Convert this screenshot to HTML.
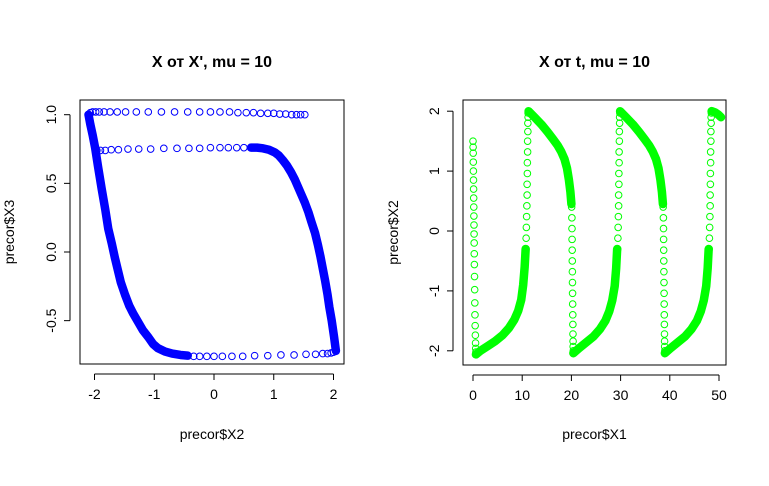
<!DOCTYPE html>
<html><head><meta charset="utf-8"><style>
body{margin:0;background:#fff}
svg{display:block;font-family:"Liberation Sans","Noto Sans CJK SC",sans-serif}
</style></head><body>
<svg id="c" width="769" height="486"></svg>
<script>
// ---- Left panel data (X2 vs X3) ----
const leftTopRow=[[1.52,1.0],[1.45,1.0],[1.38,1.0],[1.3,1.0],[1.2,1.005],[1.1,1.005],[1.0,1.01],[0.9,1.01],[0.78,1.01],[0.66,1.015],[0.54,1.015],[0.4,1.015],[0.26,1.02],[0.1,1.02],[-0.06,1.02],[-0.24,1.02],[-0.44,1.02],[-0.66,1.02],[-0.88,1.02],[-1.1,1.02],[-1.3,1.02],[-1.48,1.02],[-1.62,1.02],[-1.74,1.02],[-1.84,1.02],[-1.92,1.02],[-1.98,1.02],[-2.03,1.02],[-2.07,1.015]];
const leftBranchL=[[-2.1,1.0],[-2.07,0.93],[-2.03,0.85],[-1.99,0.76],[-1.94,0.62],[-1.88,0.46],[-1.82,0.31],[-1.77,0.17],[-1.71,0.06],[-1.66,-0.04],[-1.61,-0.13],[-1.56,-0.22],[-1.49,-0.31],[-1.42,-0.39],[-1.35,-0.45],[-1.27,-0.51],[-1.19,-0.57],[-1.1,-0.62],[-1.02,-0.67],[-0.94,-0.7],[-0.82,-0.725],[-0.7,-0.74],[-0.56,-0.75],[-0.44,-0.755]];
const leftBottomRow=[[-0.44,-0.755],[-0.34,-0.76],[-0.24,-0.76],[-0.12,-0.76],[0.0,-0.76],[0.14,-0.76],[0.3,-0.76],[0.48,-0.76],[0.68,-0.755],[0.9,-0.755],[1.12,-0.75],[1.34,-0.75],[1.54,-0.745],[1.7,-0.745],[1.82,-0.74],[1.9,-0.74],[1.96,-0.735],[2.0,-0.73]];
const leftBranchR=[[2.04,-0.72],[2.01,-0.62],[1.97,-0.5],[1.93,-0.4],[1.9,-0.31],[1.86,-0.21],[1.82,-0.12],[1.78,-0.03],[1.74,0.05],[1.69,0.14],[1.63,0.22],[1.58,0.29],[1.52,0.36],[1.46,0.42],[1.4,0.48],[1.35,0.53],[1.29,0.58],[1.22,0.63],[1.15,0.67],[1.08,0.705],[1.02,0.725],[0.92,0.745],[0.82,0.755],[0.72,0.76],[0.62,0.76]];
const leftMidRow=[[0.62,0.76],[0.5,0.76],[0.38,0.76],[0.24,0.76],[0.1,0.76],[-0.06,0.76],[-0.24,0.755],[-0.42,0.755],[-0.62,0.755],[-0.84,0.755],[-1.06,0.75],[-1.26,0.75],[-1.44,0.75],[-1.6,0.745],[-1.72,0.745],[-1.82,0.74],[-1.9,0.74],[-1.96,0.74]];
const leftXTicks=[-2,-1,0,1,2];
const leftYTicks=[-0.5,0.0,0.5,1.0];
const leftYTickLabels=["-0.5","0.0","0.5","1.0"];
// ---- Right panel data (t vs X2) ----
const rJump0=[[0.0,1.5],[0.02,1.4],[0.04,1.3],[0.06,1.15],[0.08,1.0],[0.1,0.85],[0.12,0.7],[0.14,0.55],[0.16,0.4],[0.18,0.25],[0.2,0.1],[0.22,-0.05],[0.24,-0.2],[0.26,-0.38],[0.28,-0.56],[0.31,-0.76],[0.34,-0.98],[0.37,-1.2],[0.4,-1.4],[0.44,-1.58],[0.48,-1.74],[0.52,-1.87],[0.56,-1.96],[0.6,-2.02]];
const rBranch1=[[0.6,-2.06],[1.5,-2.0],[3,-1.92],[4.5,-1.84],[6,-1.74],[7.3,-1.62],[8.4,-1.48],[9.2,-1.33],[9.8,-1.15],[10.2,-0.9],[10.5,-0.6],[10.7,-0.3]];
const rJump1=[[10.75,-0.3],[10.8,-0.12],[10.85,0.06],[10.9,0.24],[10.95,0.42],[11.0,0.6],[11.0,0.78],[11.05,0.96],[11.05,1.14],[11.1,1.32],[11.1,1.5],[11.15,1.66],[11.15,1.8],[11.2,1.9],[11.2,1.97]];
const rBranch2=[[11.3,2.0],[12.5,1.9],[13.9,1.78],[15.2,1.65],[16.3,1.53],[17.2,1.43],[17.9,1.33],[18.6,1.2],[19.1,1.05],[19.5,0.85],[19.8,0.65],[20.0,0.45]];
const rJump2=[[20.05,0.4],[20.1,0.22],[20.12,0.04],[20.14,-0.14],[20.16,-0.32],[20.18,-0.5],[20.2,-0.68],[20.22,-0.86],[20.24,-1.04],[20.26,-1.22],[20.28,-1.4],[20.3,-1.56],[20.32,-1.72],[20.34,-1.84],[20.36,-1.93],[20.4,-2.0]];
const rBranch3=[[20.4,-2.04],[21.5,-1.96],[23,-1.86],[24.5,-1.76],[25.8,-1.64],[26.9,-1.5],[27.7,-1.34],[28.3,-1.16],[28.8,-0.92],[29.1,-0.62],[29.3,-0.3]];
const rJump3=[[29.4,-0.3],[29.45,-0.12],[29.5,0.06],[29.55,0.24],[29.6,0.42],[29.6,0.6],[29.65,0.78],[29.65,0.96],[29.7,1.14],[29.7,1.32],[29.75,1.5],[29.75,1.66],[29.8,1.8],[29.8,1.9],[29.85,1.97]];
const rBranch4=[[29.9,2.0],[31.1,1.9],[32.5,1.78],[33.8,1.65],[34.9,1.53],[35.8,1.43],[36.5,1.33],[37.2,1.2],[37.7,1.05],[38.1,0.85],[38.4,0.65],[38.6,0.45]];
const rJump4=[[38.65,0.4],[38.7,0.22],[38.72,0.04],[38.74,-0.14],[38.76,-0.32],[38.78,-0.5],[38.8,-0.68],[38.82,-0.86],[38.84,-1.04],[38.86,-1.22],[38.88,-1.4],[38.9,-1.56],[38.92,-1.72],[38.94,-1.84],[38.96,-1.93],[39.0,-2.0]];
const rBranch5=[[39.0,-2.04],[40.1,-1.96],[41.6,-1.86],[43.1,-1.76],[44.4,-1.64],[45.5,-1.5],[46.3,-1.34],[46.9,-1.16],[47.4,-0.92],[47.7,-0.62],[47.9,-0.3]];
const rJump5=[[48.0,-0.3],[48.05,-0.12],[48.1,0.06],[48.15,0.24],[48.2,0.42],[48.2,0.6],[48.25,0.78],[48.25,0.96],[48.3,1.14],[48.3,1.32],[48.35,1.5],[48.35,1.66],[48.4,1.8],[48.4,1.9],[48.45,1.97]];
const rBranch6=[[48.5,2.0],[49.2,1.98],[49.9,1.94],[50.4,1.9]];
const rightXTicks=[0,10,20,30,40,50];
const rightYTicks=[-2,-1,0,1,2];

const NS="http://www.w3.org/2000/svg";
const svg=document.getElementById('c');
function mk(tag,attrs,parent){const e=document.createElementNS(NS,tag);for(const k in attrs)e.setAttribute(k,attrs[k]);(parent||svg).appendChild(e);return e;}
function txt(s,x,y,opt,name){const e=mk('text',Object.assign({x:x,y:y,'text-anchor':'middle','font-size':14,fill:'#000'},opt||{}));e.textContent=s;


return e;}

// axis functions
const Lx=v=>214+v*59.75, Ly=v=>252-v*137.3;
const Rx=v=>473+v*4.92, Ry=v=>231-v*59.9;

function panel(box,xs,ys,xt,xtl,yt,ytl,title,xlab,ylab,ylabX,prefix){
  const r=mk('rect',{x:box[0],y:box[1],width:box[2]-box[0],height:box[3]-box[1],fill:'none',stroke:'#000','stroke-width':1});
  
  
  const xl=mk('line',{x1:xs(xt[0]),x2:xs(xt[xt.length-1]),y1:box[3]+10,y2:box[3]+10,stroke:'#000'});
  
  
  xt.forEach((v,i)=>{const t=mk('line',{x1:xs(v),x2:xs(v),y1:box[3]+10,y2:box[3]+16,stroke:'#000'});
    
    
    txt(xtl[i],xs(v),box[3]+35,{},prefix+'-x-tick-label');});
  const yl=mk('line',{x1:box[0]-10,x2:box[0]-10,y1:ys(yt[0]),y2:ys(yt[yt.length-1]),stroke:'#000'});
  
  
  yt.forEach((v,i)=>{const t=mk('line',{x1:box[0]-16,x2:box[0]-10,y1:ys(v),y2:ys(v),stroke:'#000'});
    
    
    const X=box[0]-24,Y=ys(v);
    txt(ytl[i],X,Y,{transform:'rotate(-90 '+X+' '+Y+')'},prefix+'-y-tick-label');});
  txt(title,(box[0]+box[2])/2,67,{'font-size':16,'font-weight':'bold'},prefix+'-title');
  txt(xlab,(box[0]+box[2])/2,439,{},prefix+'-x-axis-title');
  txt(ylab,ylabX,(box[1]+box[3])/2,{transform:'rotate(-90 '+ylabX+' '+((box[1]+box[3])/2)+')'},prefix+'-y-axis-title');
}
function branch(arr,xs,ys,col,name){
  const p=mk('polyline',{points:arr.map(d=>xs(d[0])+','+ys(d[1])).join(' '),fill:'none',stroke:col,'stroke-width':8.5,'stroke-linejoin':'round','stroke-linecap':'round'});
  
  
}
function pts(arr,xs,ys,col,name){
  arr.forEach(d=>{const c=mk('circle',{cx:xs(d[0]),cy:ys(d[1]),r:3.3,fill:'none',stroke:col,'stroke-width':1});
    
    });
}

panel([80,100,344,364],Lx,Ly,leftXTicks,leftXTicks.map(String),leftYTicks,leftYTickLabels,"X от X', mu = 10","precor$X2","precor$X3",14,'left');
panel([463,100,726,365],Rx,Ry,rightXTicks,rightXTicks.map(String),rightYTicks,rightYTicks.map(String),"X от t, mu = 10","precor$X1","precor$X2",398,'right');

const B='#0000ff',G='#00ff00';
branch(leftBranchL,Lx,Ly,B,'left-branch');
branch(leftBranchR,Lx,Ly,B,'right-branch');
pts(leftTopRow,Lx,Ly,B,'phase-point');
pts(leftBottomRow,Lx,Ly,B,'phase-point');
pts(leftMidRow,Lx,Ly,B,'phase-point');
[rBranch1,rBranch2,rBranch3,rBranch4,rBranch5,rBranch6].forEach(a=>branch(a,Rx,Ry,G,'time-branch'));
[rJump0,rJump1,rJump2,rJump3,rJump4,rJump5].forEach(a=>pts(a,Rx,Ry,G,'time-point'));
</script>
</body></html>
